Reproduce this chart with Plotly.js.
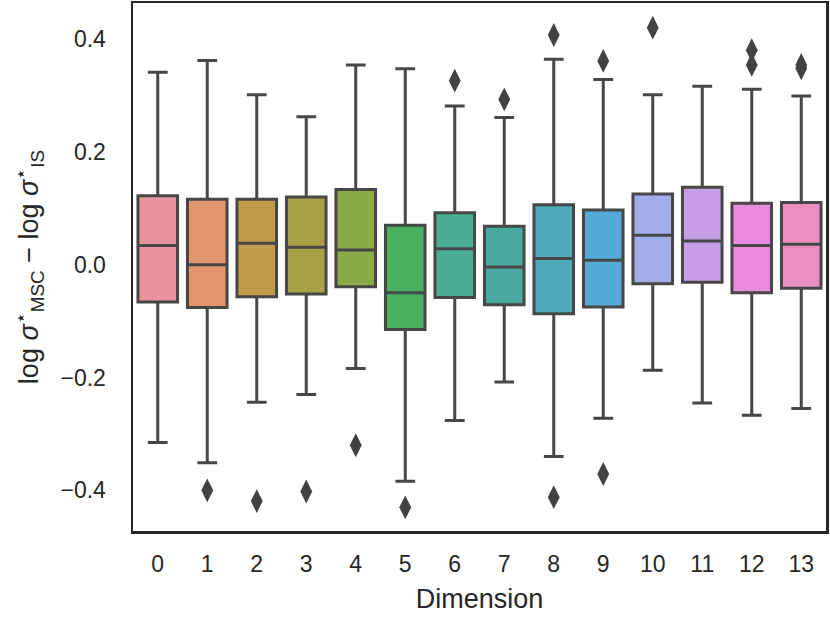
<!DOCTYPE html>
<html>
<head>
<meta charset="utf-8">
<script src="https://cdn.plot.ly/plotly-3.0.1.min.js"></script>
<style>html,body{margin:0;padding:0;background:#fff;}#chart{width:830px;height:623px;}</style>
</head>
<body>
<div id="chart"></div>
<script>
const dims = ['0','1','2','3','4','5','6','7','8','9','10','11','12','13'];
const q1Vals     = [-0.066,-0.076,-0.057,-0.052,-0.039,-0.115,-0.058,-0.071,-0.087,-0.075,-0.034,-0.031,-0.050,-0.042];
const medianVals = [0.034,0.000,0.038,0.031,0.026,-0.050,0.028,-0.004,0.011,0.008,0.052,0.042,0.034,0.036];
const q3Vals     = [0.122,0.116,0.116,0.120,0.133,0.070,0.092,0.068,0.106,0.097,0.125,0.137,0.109,0.110];
const lowerVals  = [-0.315,-0.351,-0.244,-0.230,-0.184,-0.384,-0.276,-0.208,-0.340,-0.272,-0.187,-0.245,-0.267,-0.255];
const upperVals  = [0.341,0.362,0.301,0.262,0.354,0.347,0.281,0.261,0.364,0.328,0.301,0.316,0.311,0.299];
const outlierDim = ['1','2','3','4','5','6','7','8','8','9','9','10','12','12','13','13'];
const outlierVal = [-0.400,-0.419,-0.402,-0.320,-0.430,0.326,0.293,0.407,-0.412,0.361,-0.371,0.420,0.380,0.354,0.354,0.348];
const boxColors = ['#e8939e','#e3956d','#c19a4b','#a7a046','#8aa947','#49b15f','#4aae91','#4aa99e','#4eaab9','#56aad7','#a1aeea','#c79ee6','#e98ae0','#e98ebf'];

const lineColor = '#474747';
const traces = dims.map((d, i) => ({
  type: 'box',
  x: [d],
  q1: [q1Vals[i]],
  median: [medianVals[i]],
  q3: [q3Vals[i]],
  lowerfence: [lowerVals[i]],
  upperfence: [upperVals[i]],
  boxpoints: false,
  width: 0.8,
  whiskerwidth: 0.5,
  fillcolor: boxColors[i],
  line: {color: lineColor, width: 3},
  showlegend: false,
  hoverinfo: 'skip'
}));
traces.push({
  type: 'scatter',
  mode: 'markers',
  x: outlierDim,
  y: outlierVal,
  marker: {symbol: 'diamond-tall', size: 17, color: '#424242', line: {width: 0}},
  showlegend: false,
  hoverinfo: 'skip'
});

const font = {family: 'Liberation Sans, Arial, sans-serif', color: '#262626'};
const layout = {
  width: 830, height: 623,
  margin: {l: 133, r: 4, t: 3, b: 92},
  paper_bgcolor: '#fff', plot_bgcolor: '#fff',
  boxmode: 'overlay',
  font: Object.assign({size: 22}, font),
  xaxis: {
    type: 'category',
    categoryorder: 'array', categoryarray: dims,
    range: [-0.5, 13.5],
    showgrid: false, zeroline: false,
    showline: true, mirror: true, linecolor: '#262626', linewidth: 2.5,
    ticks: 'outside', ticklen: 11, tickcolor: 'rgba(0,0,0,0)',
    tickfont: Object.assign({size: 23}, font),
    title: {text: 'Dimension', font: Object.assign({size: 27}, font), standoff: 13}
  },
  yaxis: {
    range: [-0.472, 0.4637],
    tickvals: [-0.4, -0.2, 0.0, 0.2, 0.4],
    ticktext: ['\u22120.4', '\u22120.2', '0.0', '0.2', '0.4'],
    showgrid: false, zeroline: false,
    showline: true, mirror: true, linecolor: '#262626', linewidth: 2.5,
    ticks: 'outside', ticklen: 20, tickcolor: 'rgba(0,0,0,0)',
    tickfont: Object.assign({size: 23}, font),
    title: {text: 'log <i>σ</i><sup>⋆</sup><sub>MSC</sub> − log <i>σ</i><sup>⋆</sup><sub>IS</sub>', font: Object.assign({size: 27}, font), standoff: 14}
  }
};
Plotly.newPlot('chart', traces, layout, {displayModeBar: false, staticPlot: true});
</script>
</body>
</html>
